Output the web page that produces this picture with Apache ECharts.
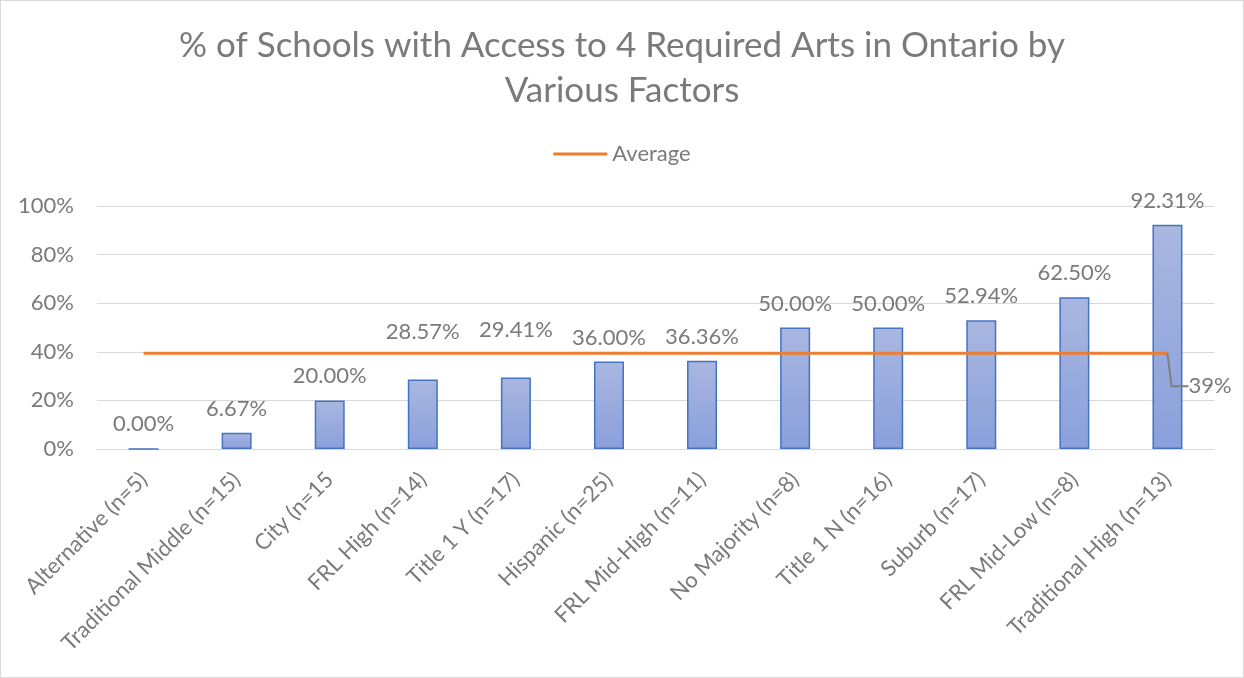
<!DOCTYPE html>
<html>
<head>
<meta charset="utf-8">
<script src="https://cdn.jsdelivr.net/npm/echarts@6/dist/echarts.min.js"></script>
<style>
html,body{margin:0;padding:0;background:#fff;}
#c{width:1242px;height:676px;border:1px solid #d9d9d9;}
</style>
</head>
<body>
<div id="c"></div>
<script>
const categories = ["Alternative (n=5)","Traditional Middle (n=15)","City (n=15","FRL High (n=14)","Title 1 Y (n=17)","Hispanic (n=25)","FRL Mid-High (n=11)","No Majority (n=8)","Title 1 N (n=16)","Suburb (n=17)","FRL Mid-Low (n=8)","Traditional High (n=13)"];
const values = [0.00, 6.67, 20.00, 28.57, 29.41, 36.00, 36.36, 50.00, 50.00, 52.94, 62.50, 92.31];
const average = [39.4, 39.4, 39.4, 39.4, 39.4, 39.4, 39.4, 39.4, 39.4, 39.4, 39.4, 39.4];
const yTicks = [0, 20, 40, 60, 80, 100];
const liftedLabels = ["FRL High (n=14)", "Title 1 Y (n=17)"];

const font = 'Lato, "Open Sans", sans-serif';
const grey = '#7a7a7a';
const chart = echarts.init(document.getElementById('c'));
const lastIdx = average.length - 1;
chart.setOption({
  animation: false,
  textStyle: {fontFamily: font},
  title: {
    text: '% of Schools with Access to 4 Required Arts in Ontario by\nVarious Factors',
    left: 'center', top: 17,
    textStyle: {color: grey, fontSize: 35, fontWeight: 'normal', lineHeight: 45, fontFamily: font}
  },
  legend: {
    top: 137, left: 'center',
    data: [{name: 'Average', icon: 'rect'}],
    itemWidth: 54, itemHeight: 3, itemGap: 10,
    textStyle: {color: grey, fontSize: 22, fontFamily: font, padding: [0, 0, 0, 0]}
  },
  grid: {left: 96, right: 29, top: 205, bottom: 228, containLabel: false},
  xAxis: {
    type: 'category', data: categories,
    axisTick: {show: false},
    axisLine: {lineStyle: {color: '#d9d9d9', width: 1}},
    axisLabel: {rotate: 45, color: grey, fontSize: 22, margin: 27, interval: 0, fontFamily: font}
  },
  yAxis: {
    type: 'value', min: 0, max: 100, interval: 20,
    axisLabel: {formatter: v => yTicks.includes(v) ? v + '%' : '', color: grey, fontSize: 22, margin: 23, fontFamily: font},
    splitLine: {lineStyle: {color: '#d9d9d9', width: 1}},
    axisLine: {show: false}, axisTick: {show: false}
  },
  series: [
    {
      name: 'Values', type: 'bar', barWidth: 30,
      data: values.map((v, i) => liftedLabels.includes(categories[i]) ? {value: v, label: {distance: 37}} : v),
      itemStyle: {
        color: new echarts.graphic.LinearGradient(0, 0, 0, 1, [
          {offset: 0, color: '#a9b7e0'},
          {offset: 1, color: '#8aa0dc'}
        ]),
        borderColor: '#4472c4', borderWidth: 1.5
      },
      label: {show: true, position: 'top', distance: 13, color: grey, fontSize: 22,
        formatter: p => p.value.toFixed(2) + '%', fontFamily: font}
    },
    {
      name: 'Average', type: 'line',
      data: average.map((v, i) => i === lastIdx ? {
        value: v,
        label: {show: true, position: 'right', distance: 0,
          formatter: p => Math.round(p.value) + '%', color: grey, fontSize: 22, fontFamily: font},
        labelLine: {show: true, length2: 17, lineStyle: {color: '#7f7f7f', width: 2}}
      } : v),
      symbol: 'circle', symbolSize: 0.1, showSymbol: true,
      lineStyle: {color: '#ed7d31', width: 3},
      itemStyle: {color: '#ed7d31'},
      labelLine: {show: true, length2: 17, lineStyle: {color: '#7f7f7f', width: 2}},
      labelLayout: p => p.dataIndex === lastIdx ? {dx: 21, dy: 33} : {},
      z: 5
    }
  ]
});
</script>
</body>
</html>
